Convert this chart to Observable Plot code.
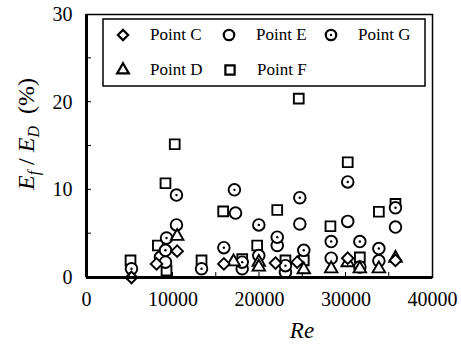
<!DOCTYPE html>
<html><head><meta charset="utf-8">
<script src="https://cdn.jsdelivr.net/npm/d3@7"></script>
<script src="https://cdn.jsdelivr.net/npm/@observablehq/plot@0.6"></script>
<style>
body{margin:0;background:#fff;}
#chart{position:relative;width:461px;height:344px;}
</style></head>
<body><div id="chart"></div>
<script>
// Point C (diamond)
const cRe = [5200, 8100, 10480, 15880, 21850, 24360, 30200, 35720];
const cE  = [0.0, 1.55, 3.0, 1.55, 1.65, 1.75, 2.2, 1.95];
// Point D (triangle)
const dRe = [10480, 17000, 19920, 19920, 25120, 28290, 30200, 31600, 33800, 35720];
const dE  = [4.7, 1.8, 1.75, 1.2, 0.9, 1.0, 1.7, 1.0, 1.0, 2.2];
// Point E (circle)
const eRe = [8550, 9130, 10400, 17230, 18000, 19920, 22050, 23000, 24660, 28290, 30200, 31600, 33800, 35720];
const eE  = [2.3, 1.75, 6.0, 7.35, 1.0, 2.5, 3.65, 0.6, 6.1, 2.2, 6.4, 1.2, 1.9, 5.75];
// Point F (square)
const fRe = [5090, 8250, 9130, 9250, 10200, 13300, 15800, 18000, 19730, 22050, 23000, 24540, 25120, 28200, 30200, 31600, 33800, 35720];
const fE  = [1.95, 3.65, 10.75, 0.8, 15.2, 1.95, 7.55, 2.1, 3.65, 7.7, 1.95, 20.4, 1.95, 5.85, 13.15, 2.3, 7.5, 8.4];
// Point G (circle with centre dot)
const gRe = [5200, 9130, 9250, 10400, 13300, 15880, 17100, 18000, 19920, 22050, 23000, 24660, 25120, 28290, 30200, 31600, 33800, 35720];
const gE  = [1.0, 3.1, 4.5, 9.4, 1.0, 3.4, 10.0, 1.75, 6.0, 4.6, 1.35, 9.1, 3.1, 4.1, 10.9, 4.1, 3.3, 7.95];

const xTicks = [0, 10000, 20000, 30000, 40000];
const yTicks = [0, 10, 20, 30];
const xMinor = [5000, 10000, 15000, 20000, 25000, 30000, 35000];
const yMinor = [5, 10, 15, 20, 25];
const legendLabels = ["Point C", "Point D", "Point E", "Point F", "Point G"];

const toRows = (xs, ys) => xs.map((x, i) => ({x, y: ys[i]}));
const C = toRows(cRe, cE), D = toRows(dRe, dE), E = toRows(eRe, eE), F = toRows(fRe, fE), G = toRows(gRe, gE);

const FONT = "'Liberation Serif', 'DejaVu Serif', serif";
const sw = 1.9;
const R = 5.8;

const plot = Plot.plot({
  width: 461, height: 344,
  marginLeft: 86, marginRight: 29, marginTop: 14, marginBottom: 67,
  style: {fontSize: "20px", background: "white", color: "black", fontFamily: FONT},
  x: {domain: [0, 40000], label: null},
  y: {domain: [0, 30], label: null},
  marks: [
    Plot.dot(F, {x: "x", y: "y", symbol: "square", r: R * 0.95, stroke: "black", strokeWidth: sw, fill: "white"}),
    Plot.dot(E, {x: "x", y: "y", symbol: "circle", r: R, stroke: "black", strokeWidth: sw, fill: "white"}),
    Plot.dot(G, {x: "x", y: "y", symbol: "circle", r: R, stroke: "black", strokeWidth: sw, fill: "white"}),
    Plot.dot(G, {x: "x", y: "y", r: 1.2, fill: "black"}),
    Plot.dot(D, {x: "x", y: "y", symbol: "triangle", r: R * 0.8, stroke: "black", strokeWidth: sw, fill: "white"}),
    Plot.dot(C, {x: "x", y: "y", symbol: "diamond2", r: R * 0.9, stroke: "black", strokeWidth: sw, fill: "white"}),
    Plot.frame({stroke: "black", strokeWidth: 1.5}),
    Plot.axisX({ticks: xTicks, tickFormat: d => String(d), tickSize: 0, tickPadding: 14}),
    Plot.axisY({ticks: yTicks, tickFormat: d => String(d), tickSize: 0, tickPadding: 14}),
    Plot.ruleX([0], {stroke: "black", strokeWidth: 3}),
    Plot.ruleY([0], {stroke: "black", strokeWidth: 3})
  ]
});
document.getElementById("chart").appendChild(plot);

const svg = d3.select(plot);
// inward minor ticks drawn with the plot's scales
const xs = plot.scale("x"), ys = plot.scale("y");
const tg = svg.append("g").attr("stroke", "black").attr("stroke-width", 1);
xMinor.forEach(v => { const px = xs.apply(v); tg.append("line").attr("x1", px).attr("x2", px).attr("y1", ys.apply(0)).attr("y2", ys.apply(0) - 5); });
yMinor.forEach(v => { const py = ys.apply(v); tg.append("line").attr("x1", xs.apply(0)).attr("x2", xs.apply(0) + 5).attr("y1", py).attr("y2", py); });

// axis titles
svg.append("text").attr("x", 302).attr("y", 338).attr("text-anchor", "middle")
  .attr("font-style", "italic").attr("font-size", 23).text("Re");
const yl = svg.append("text").attr("transform", "translate(34,134) rotate(-90)").attr("text-anchor", "middle")
  .attr("font-size", 24);
yl.append("tspan").attr("font-style", "italic").text("E");
yl.append("tspan").attr("font-style", "italic").attr("font-size", 16).attr("dy", 5).text("f");
yl.append("tspan").attr("dy", -5).text(" / ");
yl.append("tspan").attr("font-style", "italic").text("E");
yl.append("tspan").attr("font-style", "italic").attr("font-size", 16).attr("dy", 5).text("D");
yl.append("tspan").attr("dy", -5).text("\u2002(%)");

// legend box
const lg = svg.append("g");
lg.append("rect").attr("x", 103).attr("y", 19).attr("width", 322).attr("height", 67)
  .attr("fill", "white").attr("stroke", "black").attr("stroke-width", 1.5);
const items = [
  {sym: "diamond2", label: legendLabels[0], x: 123, y: 35},
  {sym: "circle", label: legendLabels[2], x: 229, y: 35},
  {sym: "dot", label: legendLabels[4], x: 331, y: 35},
  {sym: "triangle", label: legendLabels[1], x: 123, y: 70},
  {sym: "square", label: legendLabels[3], x: 230, y: 70}
];
const symMap = {diamond2: d3.symbolDiamond2, circle: d3.symbolCircle, dot: d3.symbolCircle, triangle: d3.symbolTriangle, square: d3.symbolSquare};
const scaleBy = {diamond2: 0.8, circle: 0.9, dot: 0.9, triangle: 0.75, square: 0.9};
items.forEach(it => {
  const size = Math.PI * (R * scaleBy[it.sym]) ** 2;
  lg.append("path").attr("d", d3.symbol(symMap[it.sym], size)()).attr("transform", `translate(${it.x},${it.y})`)
    .attr("fill", "white").attr("stroke", "black").attr("stroke-width", 2.2);
  if (it.sym === "dot") lg.append("circle").attr("cx", it.x).attr("cy", it.y).attr("r", 1.2).attr("fill", "black");
  lg.append("text").attr("x", it.x + 27).attr("y", it.y + 5).attr("text-anchor", "start")
    .attr("font-size", 17).text(it.label);
});
// force the serif face on every text element, and the tick label size
svg.selectAll("text, tspan").style("font-family", FONT);
svg.selectAll('g[aria-label="x-axis tick label"] text, g[aria-label="y-axis tick label"] text').style("font-size", "20px");
</script>
</body></html>
